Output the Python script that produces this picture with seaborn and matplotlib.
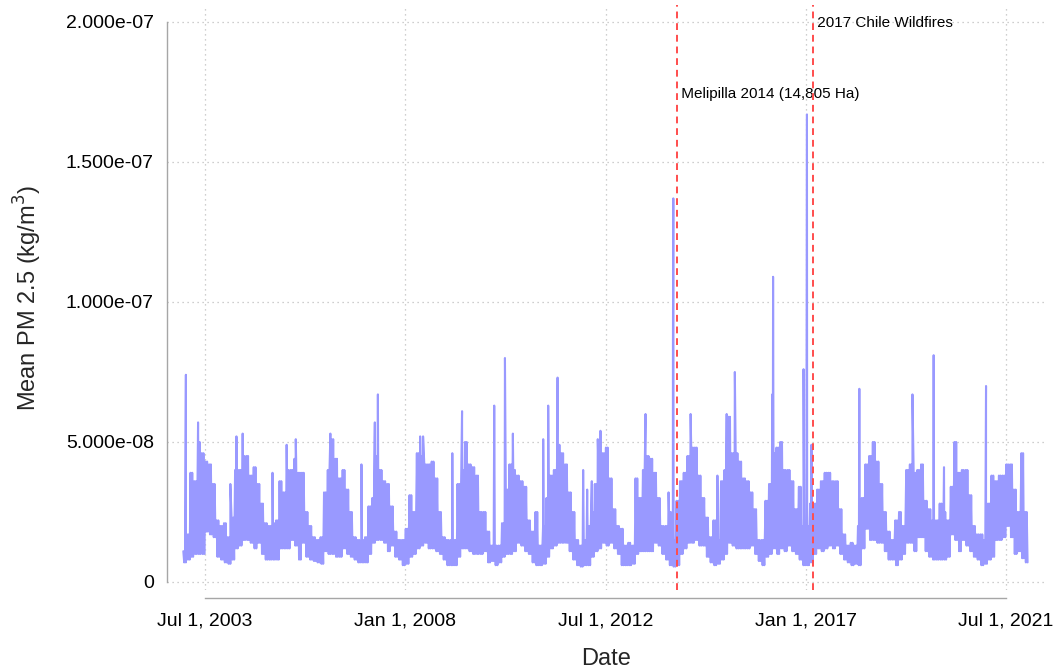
import matplotlib
matplotlib.use("Agg")
import matplotlib.pyplot as plt
import matplotlib.dates as mdates
import matplotlib.ticker as mticker
import seaborn as sns
import pandas as pd
import numpy as np

# ---- data (values in units of 1e-8 kg/m^3), monthly upper / lower envelope ----
SCALE = 1e-8
years = list(range(2003, 2022))

hi_2003 = [1.1, 1.7, 3.9, 3.6, 5.0, 4.6, 4.3, 4.2, 3.5, 2.2, 2.0, 2.1]
lo_2003 = [0.7, 0.8, 0.9, 1.0, 1.0, 1.0, 1.8, 1.7, 1.6, 0.9, 0.8, 0.7]
hi_2004 = [1.6, 2.3, 4.0, 4.0, 4.5, 4.5, 3.8, 4.1, 3.5, 2.8, 2.1, 2.0]
lo_2004 = [0.65, 0.8, 1.2, 1.3, 1.5, 1.5, 1.4, 1.2, 1.4, 1.0, 0.8, 0.8]
hi_2005 = [2.1, 2.2, 3.6, 3.2, 4.0, 4.0, 4.4, 3.9, 3.9, 2.5, 2.0, 1.6]
lo_2005 = [0.8, 0.8, 1.2, 1.2, 1.2, 1.5, 1.3, 0.8, 1.4, 0.9, 0.8, 0.75]
hi_2006 = [1.5, 1.6, 3.2, 4.0, 5.1, 4.4, 3.7, 4.0, 3.3, 2.5, 1.6, 1.5]
lo_2006 = [0.7, 0.65, 1.1, 1.0, 1.0, 0.9, 0.9, 1.2, 1.0, 0.9, 0.8, 0.7]
hi_2007 = [1.5, 1.6, 2.7, 3.0, 4.5, 4.0, 3.6, 3.5, 2.7, 1.8, 1.5, 1.5]
lo_2007 = [0.7, 0.7, 1.0, 1.4, 1.5, 1.5, 1.4, 1.1, 1.3, 0.9, 0.8, 0.6]
hi_2008 = [1.9, 3.1, 2.5, 4.6, 4.5, 4.2, 4.2, 4.3, 3.7, 2.5, 1.6, 1.5]
lo_2008 = [0.65, 0.9, 1.0, 1.2, 1.3, 1.4, 1.2, 1.2, 1.1, 1.0, 0.8, 0.6]
hi_2009 = [1.5, 1.5, 3.5, 4.0, 5.0, 4.2, 4.1, 3.8, 2.5, 2.5, 1.8, 1.3]
lo_2009 = [0.6, 0.6, 0.9, 1.2, 1.2, 1.1, 1.0, 1.0, 1.0, 1.1, 0.7, 0.75]
hi_2010 = [1.3, 1.3, 2.1, 3.3, 4.2, 4.0, 3.8, 3.6, 3.4, 2.2, 1.8, 2.5]
lo_2010 = [0.6, 0.7, 0.9, 1.0, 1.0, 1.1, 1.4, 1.3, 1.1, 1.0, 0.7, 0.6]
hi_2011 = [1.3, 2.0, 3.0, 3.8, 4.0, 4.9, 4.6, 4.2, 3.2, 2.5, 1.5, 1.3]
lo_2011 = [0.6, 0.65, 0.9, 1.2, 1.3, 1.4, 1.4, 1.4, 1.1, 0.8, 0.6, 0.55]
hi_2012 = [1.5, 2.0, 2.5, 3.5, 4.0, 4.6, 4.8, 3.7, 2.6, 2.0, 1.9, 1.3]
lo_2012 = [0.6, 0.6, 0.9, 1.1, 1.2, 1.4, 1.3, 1.4, 1.2, 1.0, 0.6, 0.6]
hi_2013 = [1.4, 1.3, 3.7, 3.0, 4.0, 4.5, 4.4, 3.9, 3.0, 2.0, 2.0, 2.5]
lo_2013 = [0.6, 0.65, 1.0, 1.1, 1.1, 1.1, 1.1, 1.4, 1.3, 1.0, 0.8, 0.6]
hi_2014 = [1.5, 2.9, 3.6, 3.9, 4.5, 4.8, 4.8, 3.8, 3.0, 2.3, 1.6, 2.2]
lo_2014 = [0.55, 0.6, 1.0, 1.2, 1.4, 1.4, 1.5, 1.3, 1.3, 0.9, 0.7, 0.6]
hi_2015 = [1.5, 3.6, 4.0, 5.9, 4.6, 4.6, 4.3, 3.7, 3.6, 3.2, 2.6, 1.5]
lo_2015 = [0.65, 0.8, 1.0, 1.4, 1.3, 1.2, 1.2, 1.2, 1.2, 1.3, 1.0, 0.75]
hi_2016 = [1.5, 2.9, 3.5, 4.6, 4.8, 5.0, 4.0, 4.0, 3.6, 2.6, 3.4, 2.0]
lo_2016 = [0.6, 0.9, 1.0, 1.2, 1.0, 1.2, 1.1, 1.3, 1.1, 1.0, 0.8, 0.6]
hi_2017 = [2.0, 2.8, 2.8, 3.3, 3.6, 3.9, 3.9, 3.6, 3.6, 2.6, 1.7, 1.3]
lo_2017 = [0.6, 0.7, 1.0, 1.2, 1.1, 1.2, 1.3, 1.2, 1.3, 1.0, 0.8, 0.7]
hi_2018 = [1.4, 1.3, 2.0, 3.0, 4.2, 4.5, 5.0, 4.3, 3.5, 2.5, 1.8, 1.5]
lo_2018 = [0.6, 0.65, 0.6, 1.2, 1.9, 1.5, 1.5, 1.4, 1.4, 1.1, 0.8, 0.8]
hi_2019 = [2.2, 2.5, 2.0, 4.0, 4.2, 3.9, 4.0, 4.2, 2.9, 2.6, 2.2, 2.2]
lo_2019 = [0.6, 0.8, 1.0, 1.4, 1.4, 1.1, 1.6, 1.6, 1.1, 0.9, 0.8, 0.8]
hi_2020 = [2.8, 2.5, 2.2, 3.4, 5.0, 3.9, 4.0, 4.0, 3.1, 2.0, 1.7, 1.7]
lo_2020 = [0.8, 0.8, 0.9, 1.7, 1.5, 1.1, 1.5, 1.3, 1.1, 0.9, 0.8, 0.6]
hi_2021 = [1.5, 2.8, 3.8, 3.6, 3.8, 3.8, 4.2, 4.2, 3.3, 2.5, 4.6, 2.5]
lo_2021 = [0.65, 0.8, 0.9, 1.5, 1.5, 1.6, 2.0, 1.6, 1.0, 1.1, 0.85, 0.7]

# individual spikes (date, value in 1e-8)
spike_dates = ["2003-01-25", "2003-05-05", "2004-01-25", "2004-03-15", "2004-05-05",
               "2005-01-05", "2005-05-01", "2005-07-15", "2006-04-25", "2007-01-05",
               "2007-04-25", "2007-05-20", "2008-05-01", "2008-05-25", "2009-01-20",
               "2009-04-10", "2009-12-30", "2010-03-28", "2010-06-01", "2011-02-05",
               "2011-03-18", "2011-06-03", "2011-12-30", "2012-02-01", "2012-03-10",
               "2012-04-28", "2012-05-20", "2013-05-25", "2013-11-30", "2014-01-05",
               "2014-01-08", "2014-05-30", "2015-01-05", "2015-03-22", "2015-05-28",
               "2016-03-30", "2016-04-06", "2016-12-12", "2017-01-09", "2017-02-15",
               "2018-03-15", "2019-05-25", "2019-11-15", "2020-02-08", "2021-01-18"]
spike_values = [7.4, 5.7, 3.5, 5.2, 5.3,
                3.9, 4.9, 5.1, 5.3, 4.2,
                5.7, 6.7, 5.2, 5.2, 4.6,
                6.1, 6.3, 8.0, 5.3, 5.1,
                6.3, 7.3, 4.0, 3.3, 3.6,
                5.1, 5.4, 6.0, 3.2, 8.5,
                13.7, 6.0, 3.8, 6.0, 7.5,
                6.7, 10.9, 7.6, 16.7, 4.9,
                6.9, 6.7, 8.1, 4.1, 7.0]

# events
event_dates = ["2014-02-10", "2017-02-24"]
event_labels = ["Melipilla 2014 (14,805 Ha)", "2017 Chile Wildfires"]
event_label_y = [1.742e-07, 1.995e-07]

# x ticks
xtick_dates = ["2003-07-01", "2008-01-01", "2012-07-01", "2017-01-01", "2021-07-01"]
xtick_labels = ["Jul 1, 2003", "Jan 1, 2008", "Jul 1, 2012", "Jan 1, 2017", "Jul 1, 2021"]
ytick_values = [0, 5e-08, 1e-07, 1.5e-07, 2e-07]

# ---- assemble: band top and bottom of each month, each reached twice a month ----
hi_all = [hi_2003, hi_2004, hi_2005, hi_2006, hi_2007, hi_2008, hi_2009, hi_2010, hi_2011,
          hi_2012, hi_2013, hi_2014, hi_2015, hi_2016, hi_2017, hi_2018, hi_2019, hi_2020, hi_2021]
lo_all = [lo_2003, lo_2004, lo_2005, lo_2006, lo_2007, lo_2008, lo_2009, lo_2010, lo_2011,
          lo_2012, lo_2013, lo_2014, lo_2015, lo_2016, lo_2017, lo_2018, lo_2019, lo_2020, lo_2021]
rows = []
for yr, his, los in zip(years, hi_all, lo_all):
    for m in range(12):
        rows.append((pd.Timestamp(yr, m + 1, 4), his[m]))
        rows.append((pd.Timestamp(yr, m + 1, 11), los[m]))
        rows.append((pd.Timestamp(yr, m + 1, 18), his[m]))
        rows.append((pd.Timestamp(yr, m + 1, 25), los[m]))
for d, v in zip(spike_dates, spike_values):
    rows.append((pd.Timestamp(d), v))
df = pd.DataFrame(rows, columns=["date", "pm"]).sort_values("date").reset_index(drop=True)
df["pm"] = df["pm"] * SCALE

# ---- plot ----
sns.set_style("white")
plt.rcParams["font.family"] = ["Liberation Sans", "DejaVu Sans"]

fig = plt.figure(figsize=(10.57, 6.69), dpi=100)
ax = fig.add_axes([167 / 1057, 1 - 590 / 669, (1045 - 167) / 1057, (590 - 5) / 669])

sns.lineplot(data=df, x="date", y="pm", ax=ax, color="#9999ff", lw=1.5,
             estimator=None, sort=False)

ax.set_ylim(-0.286e-8, 20.607e-8)
ax.set_xlim(pd.Timestamp("2002-08-23"), pd.Timestamp("2022-05-17"))

xt = [mdates.date2num(pd.Timestamp(d)) for d in xtick_dates]
ax.set_xticks(xt)
ax.set_xticklabels(xtick_labels)
ax.set_yticks(ytick_values)
ax.yaxis.set_major_formatter(mticker.FuncFormatter(lambda v, p: "0" if v == 0 else "%.3e" % v))

ax.grid(True, which="major", linestyle=(0, (1, 3)), color="#bfbfbf", lw=0.9)
ax.set_axisbelow(True)

for s in ["top", "right"]:
    ax.spines[s].set_visible(False)
for s in ["left", "bottom"]:
    ax.spines[s].set_color("#a6a6a6")
    ax.spines[s].set_linewidth(1.0)
ax.spines["left"].set_bounds(0, 2e-7)
ax.spines["bottom"].set_position(("outward", 6))
ax.spines["bottom"].set_bounds(xt[0], xt[-1])

ax.tick_params(axis="both", which="major", direction="out", length=6.5, width=1.0,
               color="#a6a6a6", labelsize=14, labelcolor="black")
ax.tick_params(axis="y", pad=3)
ax.tick_params(axis="x", pad=4)

for d, lab, yv in zip(event_dates, event_labels, event_label_y):
    xd = mdates.date2num(pd.Timestamp(d))
    ax.axvline(xd, color="#ff4d4d", linestyle=(0, (3.5, 2.5)), lw=1.4, zorder=5)
    ax.text(xd, yv, " " + lab, fontsize=11, ha="left", va="center", color="black")

ax.set_xlabel("Date", fontsize=17, labelpad=13)
ax.set_ylabel("Mean PM 2.5 (kg/m$^3$)", fontsize=17, labelpad=16)

fig.savefig("out.png", dpi=100)
